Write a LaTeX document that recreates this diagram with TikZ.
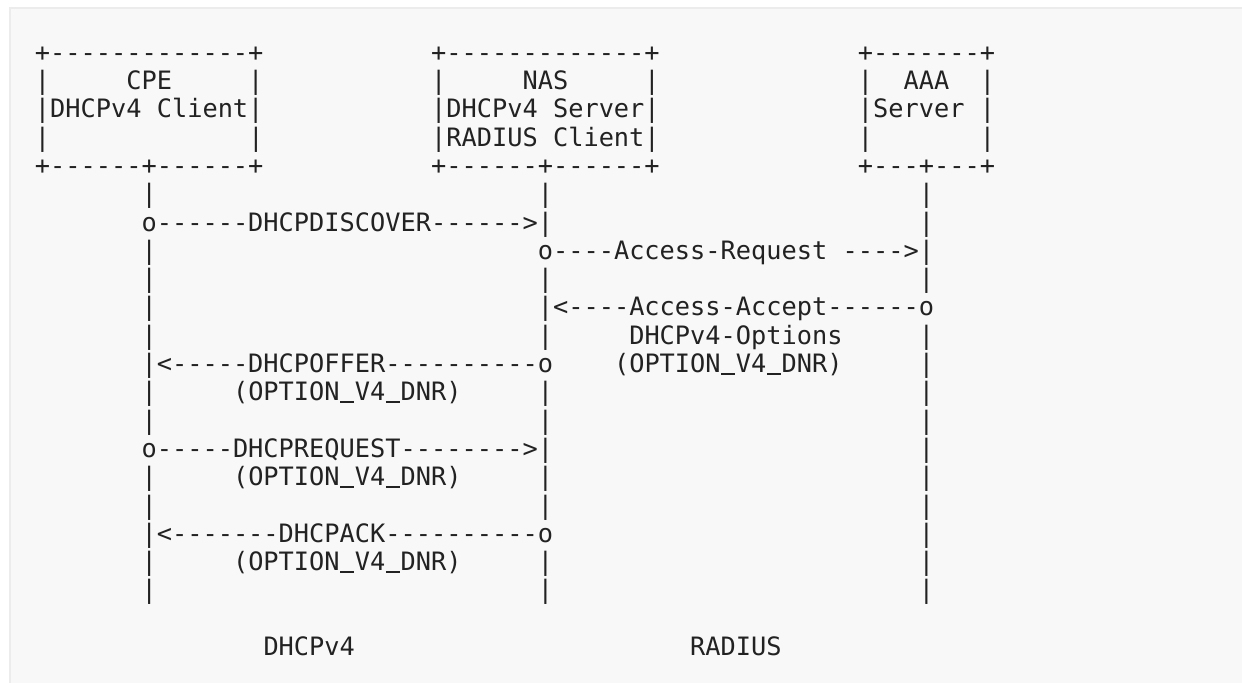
\documentclass[tikz,border=0pt]{standalone}
\usepackage{fontspec}
\setmonofont{DejaVu Sans Mono}
\definecolor{bgc}{HTML}{F8F8F8}
\definecolor{brd}{HTML}{ECECEC}
\definecolor{txt}{HTML}{222222}
\tikzset{
  t/.style={anchor=base west, inner sep=0pt, outer sep=0pt,
    font=\ttfamily\fontsize{12.656pt}{14pt}\selectfont, text=txt}
}
\newcommand\us{\makebox[0.602em][c]{\rule[-0.1em]{0.56em}{0.08em}}}
\newcommand\segtext[3]{\node[t] (s#1-#2) at ({34.9+15.24*#1},{61.2+28.3*#2}) {#3};}
\newcommand\lifebars[1]{\segtext{7}{#1}{|}\segtext{33}{#1}{|}\segtext{58}{#1}{|}}
\begin{document}
\begin{tikzpicture}[x=0.5pt,y=-0.5pt]
\useasboundingbox (0,0) rectangle (1242,682);
\fill[bgc] (10,8) rectangle (1250,690);
\draw[brd, line width=1pt] (10,690) -- (10,8) -- (1250,8);
% boxes
\segtext{0}{0}{+-------------+}
\segtext{26}{0}{+-------------+}
\segtext{54}{0}{+-------+}
\segtext{0}{1}{|~~~~~CPE~~~~~|}
\segtext{26}{1}{|~~~~~NAS~~~~~|}
\segtext{54}{1}{|~~AAA~~|}
\segtext{0}{2}{|DHCPv4~Client|}
\segtext{26}{2}{|DHCPv4~Server|}
\segtext{54}{2}{|Server~|}
\segtext{0}{3}{|}
\segtext{14}{3}{|}
\segtext{26}{3}{|RADIUS~Client|}
\segtext{54}{3}{|}
\segtext{62}{3}{|}
\segtext{0}{4}{+------+------+}
\segtext{26}{4}{+------+------+}
\segtext{54}{4}{+---+---+}
% lifelines and messages
\lifebars{5}
\segtext{7}{6}{o------DHCPDISCOVER------>|}
\segtext{58}{6}{|}
\segtext{7}{7}{|}
\segtext{33}{7}{o----Access-Request~---->|}
\lifebars{8}
\segtext{7}{9}{|}
\segtext{33}{9}{|<----Access-Accept------o}
\segtext{7}{10}{|}
\segtext{33}{10}{|}
\segtext{39}{10}{DHCPv4-Options}
\segtext{58}{10}{|}
\segtext{7}{11}{|<-----DHCPOFFER----------o}
\segtext{38}{11}{(OPTION\us V4\us DNR)}
\segtext{58}{11}{|}
\segtext{7}{12}{|}
\segtext{13}{12}{(OPTION\us V4\us DNR)}
\segtext{33}{12}{|}
\segtext{58}{12}{|}
\lifebars{13}
\segtext{7}{14}{o-----DHCPREQUEST-------->|}
\segtext{58}{14}{|}
\segtext{7}{15}{|}
\segtext{13}{15}{(OPTION\us V4\us DNR)}
\segtext{33}{15}{|}
\segtext{58}{15}{|}
\lifebars{16}
\segtext{7}{17}{|<-------DHCPACK----------o}
\segtext{58}{17}{|}
\segtext{7}{18}{|}
\segtext{13}{18}{(OPTION\us V4\us DNR)}
\segtext{33}{18}{|}
\segtext{58}{18}{|}
\lifebars{19}
\segtext{15}{21}{DHCPv4}
\segtext{43}{21}{RADIUS}
\end{tikzpicture}
\end{document}
